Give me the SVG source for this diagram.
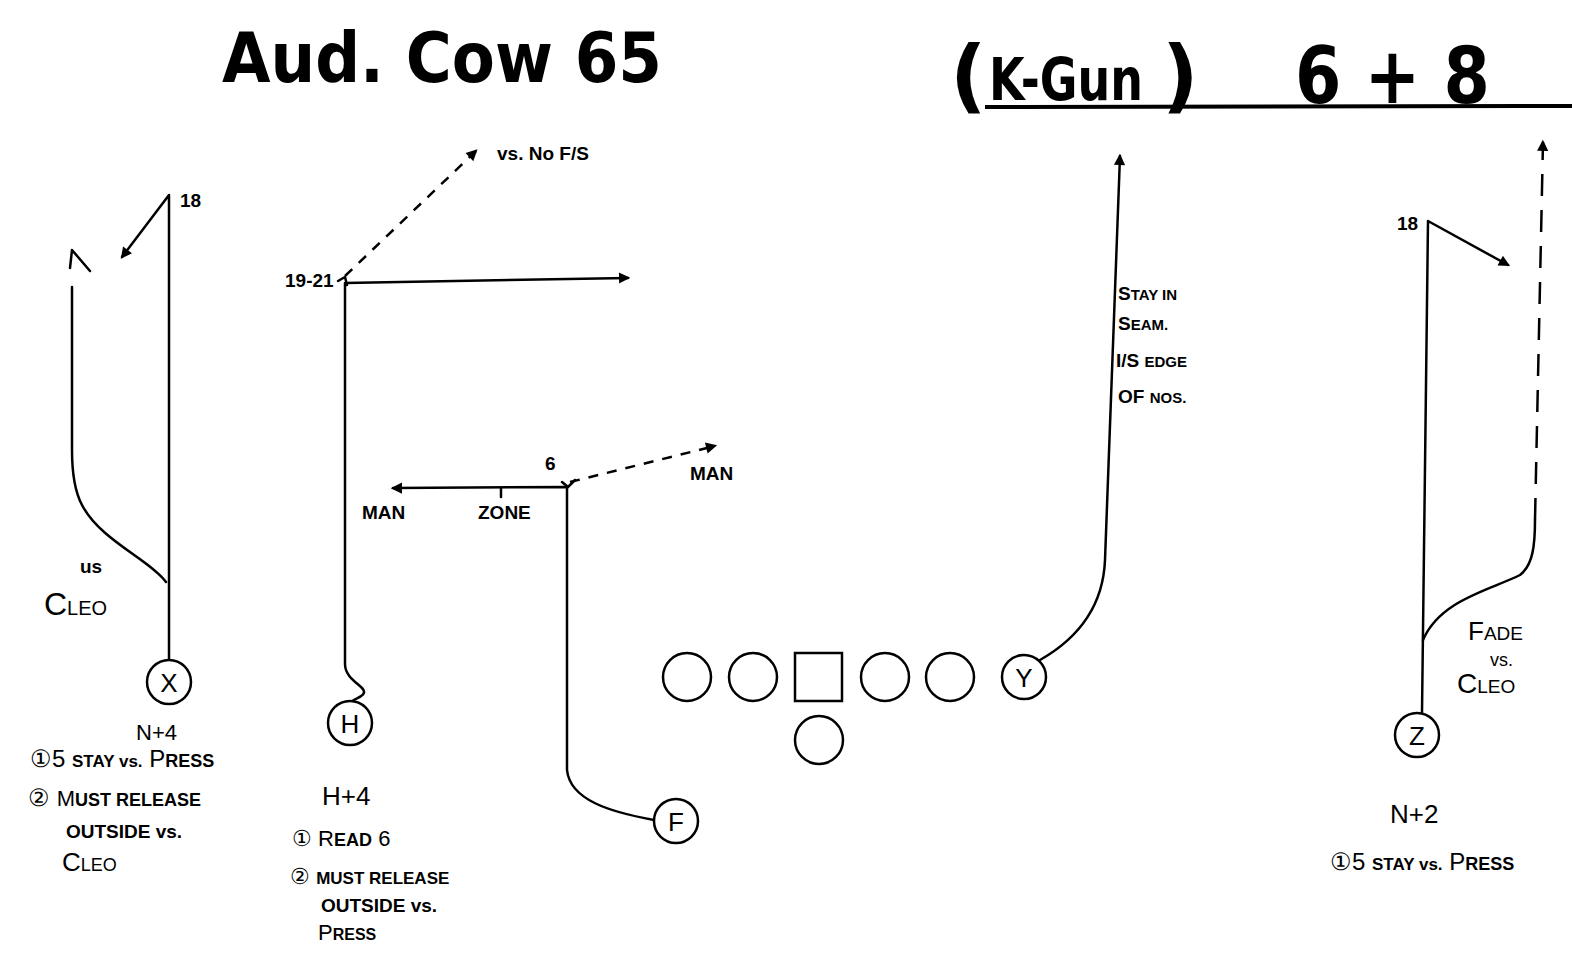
<svg xmlns="http://www.w3.org/2000/svg" width="1572" height="976" viewBox="0 0 1572 976">
<defs>
<style>
.bg{fill:#fff}
.ln{fill:none;stroke:#000;stroke-width:2.5;stroke-linecap:round;stroke-linejoin:round}
.ds{fill:none;stroke:#000;stroke-width:2.5;stroke-dasharray:10 9}
.ds2{fill:none;stroke:#000;stroke-width:2.5;stroke-dasharray:22 14}
.pl{fill:#fff;stroke:#000;stroke-width:2.5}
.t{font-family:"Liberation Sans",Arial,sans-serif;fill:#000}
.lab{font-family:"Liberation Sans",Arial,sans-serif;font-size:26px;fill:#000;text-anchor:middle}
.nt{font-family:"Liberation Sans",Arial,sans-serif;font-size:19px;font-weight:bold;fill:#000}
.title{font-family:"DejaVu Sans",sans-serif;font-weight:bold;fill:#000}
</style>
<marker id="ah" viewBox="0 0 10 10" refX="8" refY="5" markerWidth="7" markerHeight="7" markerUnits="userSpaceOnUse" orient="auto" overflow="visible">
<path d="M0,0 L10,5 L0,10 Z" fill="#000" transform="scale(1.6) translate(-3,-2)"/>
</marker>
</defs>
<rect class="bg" x="0" y="0" width="1572" height="976"/>

<g id="titles">
<text class="title" x="222" y="82" font-size="70" textLength="440" lengthAdjust="spacingAndGlyphs">Aud. Cow 65</text>
<text class="title" x="950" y="103" font-size="80" font-weight="normal">(</text>
<text class="title" transform="translate(989,100) scale(1,1.26)" x="0" y="0" font-size="46">K-Gun</text>
<text class="title" x="1162" y="103" font-size="80" font-weight="normal">)</text>
<text class="title" x="1295" y="103" font-size="78" textLength="195" lengthAdjust="spacingAndGlyphs">6 + 8</text>
<line x1="985" y1="107" x2="1572" y2="106" stroke="#000" stroke-width="4"/>
</g>

<g id="connectors">
<path class="ln" d="M169,660 L169,195 L122,257" marker-end="url(#ah)"/>
<path class="ln" d="M166,582 C150,560 100,540 82,505 C74,490 72,470 72,450 L72,287"/>
<path class="ln" d="M70,268 L72,250 L90,271"/>
<path class="ln" d="M352,701 C360,697 368,694 362,688 C356,682 345,676 345,664 L345,283 L628,278" marker-end="url(#ah)"/>
<path class="ln" d="M338,281 L345,277 L347,285"/>
<path class="ds" d="M345,276 L476,151" marker-end="url(#ah)"/>
<path class="ln" d="M654,820 C610,812 570,800 567,770 L567,487 L393,488" marker-end="url(#ah)"/>
<path class="ln" d="M501,497 L501,488"/>
<path class="ln" d="M562,482 L568,487 L575,480"/>
<path class="ds" d="M570,482 L715,446" marker-end="url(#ah)"/>
<path class="ln" d="M1040,660 C1075,640 1103,610 1105,560 L1120,156" marker-end="url(#ah)"/>
<path class="ln" d="M1422,713 L1428,221 L1508,265" marker-end="url(#ah)"/>
<path class="ln" d="M1423,640 C1440,600 1490,590 1520,575 C1533,565 1535,545 1535,520"/>
<path class="ds2" d="M1535,520 L1543,142" marker-end="url(#ah)"/>
</g>

<g id="node-X">
<circle class="pl" cx="169" cy="682" r="22"/>
<text class="lab" x="169" y="692">X</text>
</g>
<g id="node-H">
<circle class="pl" cx="350" cy="723" r="22"/>
<text class="lab" x="350" y="733">H</text>
</g>
<g id="node-F">
<circle class="pl" cx="676" cy="821" r="22"/>
<text class="lab" x="676" y="831">F</text>
</g>
<g id="node-L1"><circle class="pl" cx="687" cy="677" r="24"/></g>
<g id="node-L2"><circle class="pl" cx="753" cy="677" r="24"/></g>
<g id="node-C"><rect class="pl" x="795" y="653" width="47" height="48"/></g>
<g id="node-R1"><circle class="pl" cx="885" cy="677" r="24"/></g>
<g id="node-R2"><circle class="pl" cx="950" cy="677" r="24"/></g>
<g id="node-QB"><circle class="pl" cx="819" cy="740" r="24"/></g>
<g id="node-Y">
<circle class="pl" cx="1024" cy="677" r="22"/>
<text class="lab" x="1024" y="687">Y</text>
</g>
<g id="node-Z">
<circle class="pl" cx="1417" cy="735" r="22"/>
<text class="lab" x="1417" y="745">Z</text>
</g>

<g id="labels">
<text class="nt" x="180" y="207" font-size="20">18</text>
<text class="nt" x="285" y="287" font-size="13">19-21</text>
<text class="nt" x="497" y="160" font-size="17">vs. No F/S</text>
<text class="nt" x="545" y="470" font-size="22" font-weight="normal">6</text>
<text class="nt" x="362" y="519" font-size="13">MAN</text>
<text class="nt" x="478" y="519" font-size="13">ZONE</text>
<text class="nt" x="690" y="480" font-size="13">MAN</text>
<text class="nt" x="80" y="573" font-size="24" font-weight="normal">us</text>
<text class="t" x="44" y="615" font-size="32">C<tspan font-size="20">LEO</tspan></text>
<text class="nt" x="1118" y="300" font-size="18">S<tspan font-size="15">TAY IN</tspan></text>
<text class="nt" x="1118" y="330" font-size="18">S<tspan font-size="15">EAM.</tspan></text>
<text class="nt" x="1116" y="367" font-size="18">I/S <tspan font-size="15">EDGE</tspan></text>
<text class="nt" x="1118" y="403" font-size="18">OF <tspan font-size="15">NOS.</tspan></text>
<text class="nt" x="1397" y="230" font-size="18">18</text>
<text class="t" x="1468" y="640" font-size="26">F<tspan font-size="19">ADE</tspan></text>
<text class="t" x="1490" y="666" font-size="18">vs.</text>
<text class="t" x="1457" y="693" font-size="28">C<tspan font-size="19">LEO</tspan></text>

<text class="t" x="136" y="740" font-size="22">N+4</text>
<text class="t" x="30" y="767" font-size="24">①5 <tspan font-size="17" font-weight="bold">STAY vs.</tspan> P<tspan font-size="18" font-weight="bold">RESS</tspan></text>
<text class="t" x="28" y="806" font-size="24">② <tspan font-size="22">M</tspan><tspan font-size="18" font-weight="bold">UST RELEASE</tspan></text>
<text class="nt" x="66" y="838" font-size="17">OUTSIDE vs.</text>
<text class="t" x="62" y="871" font-size="26">C<tspan font-size="18">LEO</tspan></text>

<text class="t" x="322" y="805" font-size="26">H+4</text>
<text class="t" x="292" y="846" font-size="22">① R<tspan font-size="18" font-weight="bold">EAD</tspan> 6</text>
<text class="t" x="290" y="884" font-size="22">② <tspan font-size="17" font-weight="bold">MUST RELEASE</tspan></text>
<text class="nt" x="321" y="912" font-size="15">OUTSIDE vs.</text>
<text class="t" x="318" y="940" font-size="22">P<tspan font-size="16" font-weight="bold">RESS</tspan></text>

<text class="t" x="1390" y="823" font-size="26">N+2</text>
<text class="t" x="1330" y="870" font-size="24">①5 <tspan font-size="17" font-weight="bold">STAY vs.</tspan> P<tspan font-size="18" font-weight="bold">RESS</tspan></text>
</g>
</svg>
